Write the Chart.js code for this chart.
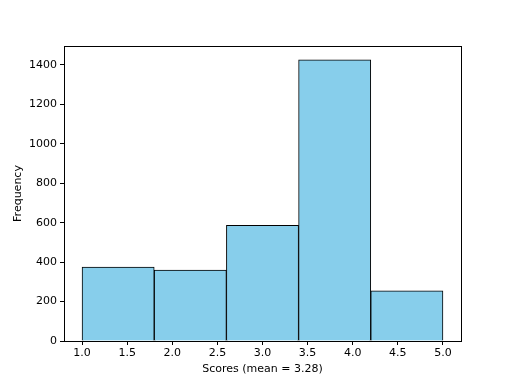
<!DOCTYPE html>
<html>
<head>
<meta charset="utf-8">
<script src="https://cdn.jsdelivr.net/npm/chart.js@4/dist/chart.umd.min.js"></script>
<style>
  html, body { margin: 0; padding: 0; background: #fff; }
  #wrap { width: 512px; height: 384px; }
</style>
</head>
<body>
<div id="wrap"><canvas id="histChart" width="512" height="384"></canvas></div>
<script>
// Histogram data (5 bins between 1.0 and 5.0)
const binEdges = [1.0, 1.8, 2.6, 3.4, 4.2, 5.0];
const binCounts = [375, 360, 586, 1426, 255];
const xTicks = [1.0, 1.5, 2.0, 2.5, 3.0, 3.5, 4.0, 4.5, 5.0];
const yTicks = [0, 200, 400, 600, 800, 1000, 1200, 1400];
const xLabel = 'Scores (mean = 3.28)';
const yLabel = 'Frequency';

const points = binCounts.map((c, i) => ({
    x: (binEdges[i] + binEdges[i + 1]) / 2,
    y: c
}));

// Draw the axes frame like matplotlib spines
const framePlugin = {
    id: 'frame',
    afterDraw(chart) {
        const a = chart.chartArea;
        const ctx = chart.ctx;
        ctx.save();
        ctx.strokeStyle = '#000';
        ctx.lineWidth = 1;
        ctx.strokeRect(a.left + 0.5, a.top + 0.5, a.right - a.left, a.bottom - a.top);
        ctx.restore();
    }
};

const font = { family: 'DejaVu Sans', size: 11 };

new Chart(document.getElementById('histChart').getContext('2d'), {
    type: 'bar',
    data: {
        datasets: [{
            data: points,
            xAxisID: 'xb',
            backgroundColor: '#87CEEB',
            borderColor: '#000',
            borderWidth: 1,
            barPercentage: 1,
            categoryPercentage: 1
        }]
    },
    options: {
        responsive: false,
        animation: false,
        layout: { padding: { left: 0, top: 46, right: 51, bottom: 0 } },
        plugins: { legend: { display: false }, tooltip: { enabled: false } },
        scales: {
            // hidden axis carrying the bars; ticks on bin edges so bars span a full bin
            xb: {
                type: 'linear',
                position: 'bottom',
                display: false,
                offset: false,
                min: 0.8,
                max: 5.2,
                afterBuildTicks(scale) {
                    scale.ticks = binEdges.map(v => ({ value: v }));
                }
            },
            x: {
                type: 'linear',
                position: 'bottom',
                offset: false,
                min: 0.8,
                max: 5.2,
                afterBuildTicks(scale) {
                    scale.ticks = xTicks.map(v => ({ value: v }));
                },
                afterFit(scale) { scale.height = 43; },
                grid: {
                    offset: false,
                    drawOnChartArea: false,
                    drawTicks: true,
                    tickLength: 4,
                    color: '#000'
                },
                border: { display: false },
                ticks: {
                    color: '#000',
                    font: font,
                    padding: 2,
                    maxRotation: 0,
                    autoSkip: false,
                    callback: v => Number(v).toFixed(1)
                },
                title: {
                    display: true,
                    text: xLabel,
                    color: '#000',
                    font: font,
                    padding: { top: 0, bottom: 8 }
                }
            },
            y: {
                min: 0,
                max: 1496,
                afterBuildTicks(scale) {
                    scale.ticks = yTicks.map(v => ({ value: v }));
                },
                afterFit(scale) { scale.width = 64; },
                grid: {
                    drawOnChartArea: false,
                    drawTicks: true,
                    tickLength: 4,
                    color: '#000'
                },
                border: { display: false },
                ticks: {
                    color: '#000',
                    font: font,
                    padding: 3,
                    autoSkip: false,
                    callback: v => String(v)
                },
                title: {
                    display: true,
                    text: yLabel,
                    color: '#000',
                    font: font,
                    padding: { top: 12, bottom: 0 }
                }
            }
        }
    },
    plugins: [framePlugin]
});
</script>
</body>
</html>
